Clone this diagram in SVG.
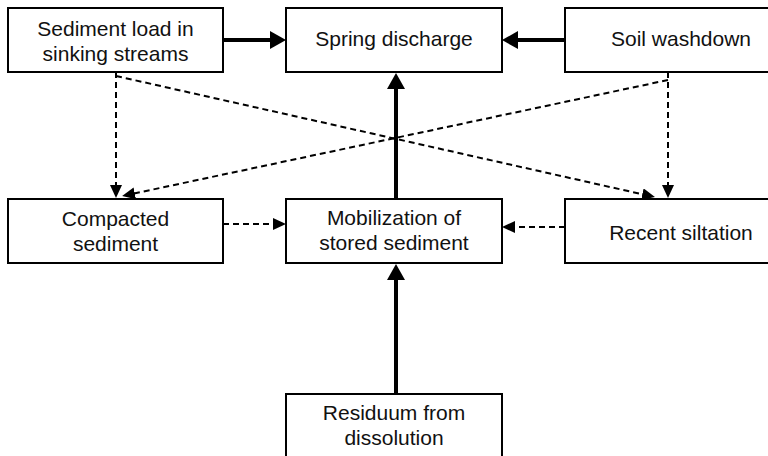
<svg xmlns="http://www.w3.org/2000/svg" width="768" height="456" viewBox="0 0 768 456">
  <style>
    .box { fill: #fff; stroke: #000; stroke-width: 2; }
    .lbl { font-family: "Liberation Sans", Arial, Helvetica, sans-serif; font-size: 21px; fill: #111; text-anchor: middle; }
    .solid { fill: none; stroke: #000; stroke-width: 4; marker-end: url(#headSolid); }
    .dash { fill: none; stroke: #000; stroke-width: 2; stroke-dasharray: 6 4; marker-end: url(#headDash); }
  </style>
  <defs>
    <marker id="headSolid" markerUnits="userSpaceOnUse" markerWidth="16" markerHeight="18" refX="6" refY="9" orient="auto">
      <path d="M0,0 L16,9 L0,18 Z" fill="#000"/>
    </marker>
    <marker id="headDash" markerUnits="userSpaceOnUse" markerWidth="13" markerHeight="12" refX="8" refY="6" orient="auto">
      <path d="M0,0 L13,6 L0,12 Z" fill="#000"/>
    </marker>
  </defs>
  <rect width="768" height="456" fill="#fff"/>

  <g id="connectors">
    <path class="solid" d="M223,40 L276,40"/>
    <path class="solid" d="M565,40 L512,40"/>
    <path class="solid" d="M396,199 L396,83"/>
    <path class="solid" d="M396,394 L396,274"/>
    <path class="dash" d="M116,72 L116,193"/>
    <path class="dash" d="M116,76 L650.1,196"/>
    <path class="dash" d="M668,72 L668,193"/>
    <path class="dash" d="M668,80 L127,195"/>
    <path class="dash" d="M223,224 L281,224"/>
    <path class="dash" d="M565,227 L507,227"/>
  </g>

  <g id="sediment-load">
    <rect class="box" x="8" y="8" width="215" height="64"/>
    <text class="lbl" x="115.5" y="36">Sediment load in</text>
    <text class="lbl" x="115.5" y="61">sinking streams</text>
  </g>
  <g id="spring-discharge">
    <rect class="box" x="286" y="8" width="216" height="64"/>
    <text class="lbl" x="394" y="46">Spring discharge</text>
  </g>
  <g id="soil-washdown">
    <rect class="box" x="565" y="8" width="232" height="64"/>
    <text class="lbl" x="681" y="46">Soil washdown</text>
  </g>
  <g id="compacted-sediment">
    <rect class="box" x="8" y="199" width="215" height="64"/>
    <text class="lbl" x="115.5" y="226">Compacted</text>
    <text class="lbl" x="115.5" y="251">sediment</text>
  </g>
  <g id="mobilization">
    <rect class="box" x="286" y="199" width="216" height="64"/>
    <text class="lbl" x="394" y="225">Mobilization of</text>
    <text class="lbl" x="394" y="250">stored sediment</text>
  </g>
  <g id="recent-siltation">
    <rect class="box" x="565" y="199" width="232" height="64"/>
    <text class="lbl" x="681" y="240">Recent siltation</text>
  </g>
  <g id="residuum">
    <rect class="box" x="286" y="394" width="216" height="80"/>
    <text class="lbl" x="394" y="420">Residuum from</text>
    <text class="lbl" x="394" y="445">dissolution</text>
  </g>
</svg>
